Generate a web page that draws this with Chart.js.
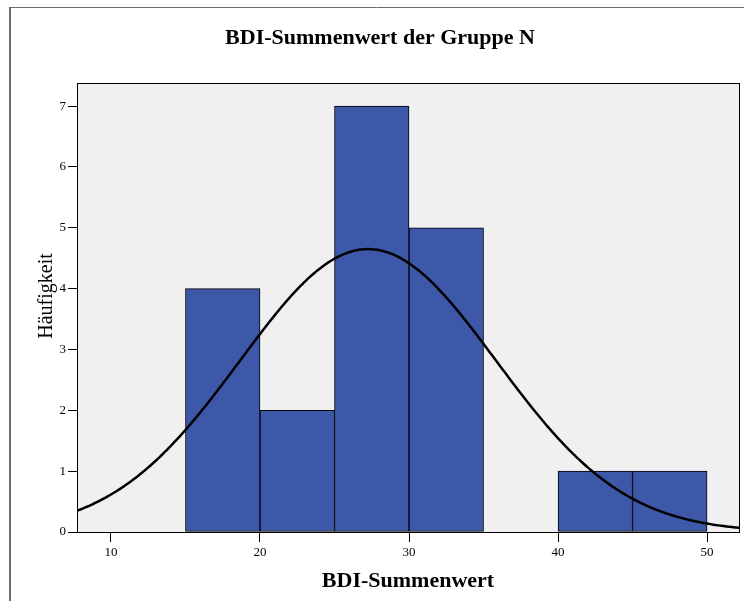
<!DOCTYPE html>
<html>
<head>
<meta charset="utf-8">
<script src="https://cdn.jsdelivr.net/npm/chart.js@4/dist/chart.umd.min.js"></script>
<style>
  html, body { margin: 0; padding: 0; background: #fff; }
  #wrap { width: 744px; height: 601px; position: relative; }
</style>
</head>
<body>
<div id="wrap"><canvas id="c" width="744" height="601"></canvas></div>
<script>
// Histogram bins (centre of each 5-point class) and their frequencies
const BIN_CENTERS = [17.5, 22.5, 27.5, 32.5, 42.5, 47.5];
const COUNTS = [4, 2, 7, 5, 1, 1];
const BIN_WIDTH = 5;

// Axis ticks
const X_TICKS = [10, 20, 30, 40, 50];
const Y_TICKS = [0, 1, 2, 3, 4, 5, 6, 7];

// Fitted normal distribution of the sample
const FIT_MEAN = 27.25;
const FIT_SD = 8.58;

const X_MIN = 7.72, X_MAX = 52.21;
const Y_MIN = 0, Y_MAX = 7.38;

const TITLE = 'BDI-Summenwert der Gruppe N';
const X_TITLE = 'BDI-Summenwert';
const Y_TITLE = 'Häufigkeit';

const SERIF = "'Liberation Serif', 'Times New Roman', serif";

const histPoints = BIN_CENTERS.map((x, i) => ({ x: x, y: COUNTS[i] }));

// Normal curve scaled to the histogram (n * bin width * density)
const nTotal = COUNTS.reduce((a, b) => a + b, 0);
const curvePoints = [];
for (let k = 0; k <= 400; k++) {
  const x = X_MIN + (X_MAX - X_MIN) * k / 400;
  const z = (x - FIT_MEAN) / FIT_SD;
  const y = nTotal * BIN_WIDTH / (FIT_SD * Math.sqrt(2 * Math.PI)) * Math.exp(-0.5 * z * z);
  curvePoints.push({ x: x, y: y });
}

const decorations = {
  id: 'decorations',
  beforeDraw(chart) {
    const { ctx, chartArea: a } = chart;
    ctx.save();
    ctx.fillStyle = '#ffffff';
    ctx.fillRect(0, 0, chart.width, chart.height);
    // outer figure frame (top and left edges)
    ctx.strokeStyle = '#6a6a6a';
    ctx.lineWidth = 1;
    ctx.beginPath();
    ctx.moveTo(9, 7.5);
    ctx.lineTo(chart.width, 7.5);
    ctx.stroke();
    ctx.lineWidth = 2;
    ctx.beginPath();
    ctx.moveTo(10, 7);
    ctx.lineTo(10, chart.height);
    ctx.stroke();
    // plot background
    ctx.fillStyle = '#f0f0f0';
    ctx.fillRect(a.left, a.top, a.right - a.left, a.bottom - a.top);
    ctx.restore();
  },
  afterDraw(chart) {
    const { ctx, chartArea: a } = chart;
    ctx.save();
    ctx.strokeStyle = '#000';
    ctx.lineWidth = 1;
    ctx.strokeRect(a.left + 0.5, a.top + 0.5, a.right - a.left - 1, a.bottom - a.top);
    ctx.fillStyle = '#000';
    ctx.textAlign = 'center';
    ctx.textBaseline = 'alphabetic';
    ctx.font = 'bold 22px ' + SERIF;
    ctx.fillText(TITLE, 380, 44);
    ctx.fillText(X_TITLE, 408, 587);
    ctx.font = '20px ' + SERIF;
    ctx.translate(52, 296);
    ctx.rotate(-Math.PI / 2);
    ctx.fillText(Y_TITLE, 0, 0);
    ctx.restore();
  }
};

new Chart(document.getElementById('c'), {
  type: 'bar',
  data: {
    datasets: [
      {
        type: 'line',
        data: curvePoints,
        borderColor: '#000',
        borderWidth: 2.5,
        pointRadius: 0,
        fill: false,
        tension: 0,
        order: 0
      },
      {
        type: 'bar',
        data: histPoints,
        backgroundColor: '#3d57a9',
        borderColor: '#000',
        borderWidth: 1,
        borderSkipped: false,
        barPercentage: 1,
        categoryPercentage: 1,
        grouped: false,
        order: 1
      }
    ]
  },
  options: {
    responsive: false,
    devicePixelRatio: 1,
    animation: false,
    layout: { padding: { top: 83, right: 4, left: 0, bottom: 0 } },
    plugins: {
      legend: { display: false },
      title: { display: false },
      tooltip: { enabled: false }
    },
    scales: {
      x: {
        type: 'linear',
        min: X_MIN,
        max: X_MAX,
        offset: false,
        afterBuildTicks: s => { s.ticks = X_TICKS.map(v => ({ value: v })); },
        afterFit: s => { s.height = 69; },
        grid: { offset: false, drawOnChartArea: false, drawTicks: true, tickLength: 10, color: '#000' },
        border: { display: false },
        ticks: { font: { family: SERIF, size: 13 }, color: '#000', padding: 3, maxRotation: 0, autoSkip: false }
      },
      y: {
        type: 'linear',
        min: Y_MIN,
        max: Y_MAX,
        afterBuildTicks: s => { s.ticks = Y_TICKS.map(v => ({ value: v })); },
        afterFit: s => { s.width = 77; },
        grid: { drawOnChartArea: false, drawTicks: true, tickLength: 9, color: '#000' },
        border: { display: false },
        ticks: { font: { family: SERIF, size: 13 }, color: '#000', padding: 2, autoSkip: false }
      }
    }
  },
  plugins: [decorations]
});
</script>
</body>
</html>
